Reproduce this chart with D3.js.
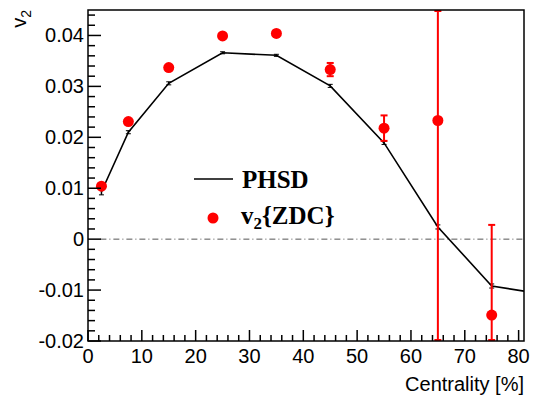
<!DOCTYPE html>
<html>
<head>
<meta charset="utf-8">
<script src="https://cdn.jsdelivr.net/npm/d3@7/dist/d3.min.js"></script>
<style>
  html, body { margin: 0; padding: 0; background: #fff; }
  svg { display: block; }
</style>
</head>
<body>
<svg id="chart" width="538" height="400"></svg>
<script>
// PHSD model curve: centrality bin centres, v2 and small statistical errors
const phsdCentrality = [2.5, 7.5, 15, 25, 35, 45, 55, 65, 75, 81];
const phsdV2        = [0.0093, 0.0210, 0.0306, 0.0366, 0.0361, 0.0301, 0.0189, 0.0024, -0.0092, -0.0102];
const phsdErr       = [0.0006, 0.0003, 0.0003, 0.0002, 0.0002, 0.0003, 0.0003, 0.0004, 0.0004, 0];

// v2{ZDC} measurement
const zdcCentrality = [2.5, 7.5, 15, 25, 35, 45, 55, 65, 75];
const zdcV2         = [0.0104, 0.0231, 0.0337, 0.0399, 0.0404, 0.0333, 0.0218, 0.0233, -0.0149];
const zdcErr        = [0.0004, 0.0004, 0.0004, 0.0004, 0.0004, 0.0013, 0.0025, 0.0500, 0.0177];

// axis tick values
const xMajorTicks = [0, 10, 20, 30, 40, 50, 60, 70, 80];
const yMajorTicks = [-0.02, -0.01, 0, 0.01, 0.02, 0.03, 0.04];
const yTickLabels = ["-0.02", "-0.01", "0", "0.01", "0.02", "0.03", "0.04"];

const svg = d3.select("#chart");
const L = 88, R = 524, T = 10, B = 341;

const x = d3.scaleLinear().domain([0, 81]).range([L, R]);
const y = d3.scaleLinear().domain([-0.02, 0.045]).range([B, T]);

svg.append("defs").append("clipPath").attr("id", "frame")
  .append("rect").attr("x", L).attr("y", T).attr("width", R - L).attr("height", B - T);

// zero reference line (dash-dot)
svg.append("line")
  .attr("x1", x(2.3)).attr("x2", x(81)).attr("y1", y(0)).attr("y2", y(0))
  .attr("stroke", "#555").attr("stroke-width", 1)
  .attr("stroke-dasharray", "6,3,1,3");

const plot = svg.append("g").attr("clip-path", "url(#frame)");

// PHSD line
const line = d3.line().x(d => x(d[0])).y(d => y(d[1]));
plot.append("path")
  .datum(phsdCentrality.map((c, i) => [c, phsdV2[i]]))
  .attr("d", line)
  .attr("fill", "none").attr("stroke", "#000").attr("stroke-width", 1.6);

// PHSD error bars
phsdCentrality.forEach((c, i) => {
  if (phsdErr[i] <= 0) return;
  plot.append("line")
    .attr("x1", x(c)).attr("x2", x(c))
    .attr("y1", y(phsdV2[i] - phsdErr[i])).attr("y2", y(phsdV2[i] + phsdErr[i]))
    .attr("stroke", "#000").attr("stroke-width", 1.5);
  [phsdV2[i] - phsdErr[i], phsdV2[i] + phsdErr[i]].forEach(v => {
    plot.append("line")
      .attr("x1", x(c) - 2.5).attr("x2", x(c) + 2.5)
      .attr("y1", y(v)).attr("y2", y(v))
      .attr("stroke", "#000").attr("stroke-width", 1);
  });
});

// v2{ZDC} error bars and markers
zdcCentrality.forEach((c, i) => {
  const lo = zdcV2[i] - zdcErr[i], hi = zdcV2[i] + zdcErr[i];
  plot.append("line")
    .attr("x1", x(c)).attr("x2", x(c))
    .attr("y1", y(lo)).attr("y2", y(hi))
    .attr("stroke", "#f00").attr("stroke-width", 2);
  [lo, hi].forEach(v => {
    const yy = Math.max(T + 1, Math.min(B - 1, y(v)));
    plot.append("line")
      .attr("x1", x(c) - 3.5).attr("x2", x(c) + 3.5)
      .attr("y1", yy).attr("y2", yy)
      .attr("stroke", "#f00").attr("stroke-width", 2);
  });
});
plot.selectAll("circle.zdc")
  .data(zdcCentrality.map((c, i) => [c, zdcV2[i]]))
  .join("circle")
  .attr("class", "zdc")
  .attr("cx", d => x(d[0])).attr("cy", d => y(d[1]))
  .attr("r", 5.5).attr("fill", "#f00");

// frame
svg.append("rect")
  .attr("x", L).attr("y", T).attr("width", R - L).attr("height", B - T)
  .attr("fill", "none").attr("stroke", "#000").attr("stroke-width", 1.5);

// ticks
const tickG = svg.append("g").attr("stroke", "#000").attr("stroke-width", 1.5);
d3.range(0, 81.01, 2).forEach(v => {
  const major = Math.abs(v % 10) < 1e-9;
  tickG.append("line")
    .attr("x1", x(v)).attr("x2", x(v))
    .attr("y1", B).attr("y2", B - (major ? 11 : 6));
});
d3.range(-0.02, 0.0451, 0.002).forEach(v => {
  const major = Math.abs(Math.round(v * 1000) % 10) === 0;
  tickG.append("line")
    .attr("x1", L).attr("x2", L + (major ? 13 : 7))
    .attr("y1", y(v)).attr("y2", y(v));
});

// tick labels
const font = "'Liberation Sans', Arial, sans-serif";
svg.append("g").selectAll("text")
  .data(xMajorTicks).join("text")
  .attr("x", d => x(d)).attr("y", 363)
  .attr("text-anchor", "middle")
  .attr("font-family", font).attr("font-size", 20)
  .text(d => d);
svg.append("g").selectAll("text")
  .data(yMajorTicks).join("text")
  .attr("x", 84).attr("y", d => y(d) + 7)
  .attr("text-anchor", "end")
  .attr("font-family", font).attr("font-size", 20)
  .text((d, i) => yTickLabels[i]);

// axis titles
svg.append("text")
  .attr("x", R).attr("y", 391)
  .attr("text-anchor", "end")
  .attr("font-family", font).attr("font-size", 20)
  .text("Centrality [%]");
const yt = svg.append("text")
  .attr("transform", `translate(26, ${T}) rotate(-90)`)
  .attr("text-anchor", "end")
  .attr("font-family", font).attr("font-size", 20);
yt.append("tspan").text("v");
yt.append("tspan").attr("font-size", 14).attr("dy", 5).text("2");

// legend
const serif = "'Liberation Serif', 'Times New Roman', serif";
svg.append("line")
  .attr("x1", 194).attr("x2", 233).attr("y1", 179).attr("y2", 179)
  .attr("stroke", "#000").attr("stroke-width", 1.6);
svg.append("text")
  .attr("x", 242).attr("y", 188)
  .attr("font-family", serif).attr("font-weight", "bold").attr("font-size", 25)
  .text("PHSD");
svg.append("circle")
  .attr("cx", 213).attr("cy", 218).attr("r", 5.5).attr("fill", "#f00");
const lt = svg.append("text")
  .attr("x", 241).attr("y", 224)
  .attr("font-family", serif).attr("font-weight", "bold").attr("font-size", 25);
lt.append("tspan").text("v");
lt.append("tspan").attr("font-size", 17).attr("dy", 5).text("2");
lt.append("tspan").attr("dy", -5).text("{ZDC}");
</script>
</body>
</html>
